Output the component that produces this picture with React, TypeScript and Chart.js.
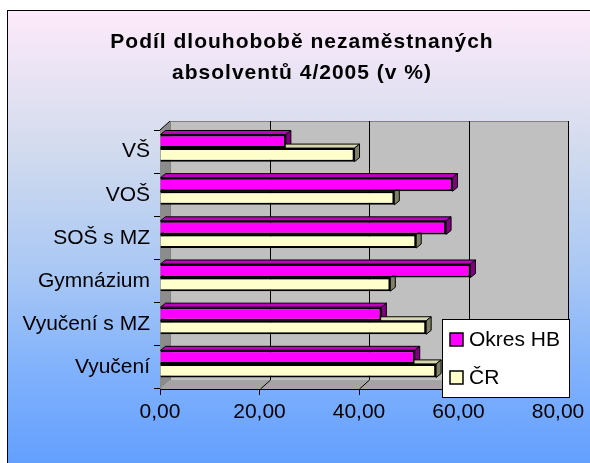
import React, { useEffect, useRef } from "react";
import { Chart, registerables } from "chart.js";

Chart.register(...registerables);

const categories = ["VŠ", "VOŠ", "SOŠ s MZ", "Gymnázium", "Vyučení s MZ", "Vyučení"];
const okresHB = [25.3, 58.8, 57.5, 62.4, 44.5, 51.2];
const cr = [39.1, 47.1, 51.5, 46.3, 53.5, 55.5];
const seriesNames = ["Okres HB", "ČR"];
const titleLines = ["Podíl dlouhobobě nezaměstnaných", "absolventů 4/2005 (v %)"];
const xTicks = [0, 20, 40, 60, 80];

const FONT = "'Liberation Sans', Arial, sans-serif";
const colors = ["#ff00ff", "#ffffcc"];
const topColors = ["#c000c0", "#d8d8b0"];
const sideColors = ["#800080", "#808066"];

const threeD = {
  id: "threeD",
  beforeDatasetsDraw(chart: any) {
    const { ctx, chartArea } = chart;
    const { left, right, top, bottom } = chartArea;
    const x = chart.scales.x;
    const DX = 10, DY = 9;
    ctx.save();
    ctx.fillStyle = "#c0c0c0";
    ctx.fillRect(left + DX, top - DY, right - left, bottom - top);
    ctx.strokeStyle = "#808080";
    ctx.lineWidth = 1;
    ctx.strokeRect(left + DX + 0.5, top - DY + 0.5, right - left, bottom - top);
    ctx.fillStyle = "#8c8c8c";
    ctx.beginPath();
    ctx.moveTo(left, top);
    ctx.lineTo(left + DX, top - DY);
    ctx.lineTo(left + DX, bottom - DY);
    ctx.lineTo(left, bottom);
    ctx.closePath();
    ctx.fill();
    ctx.strokeStyle = "#000";
    ctx.beginPath();
    ctx.moveTo(left, top);
    ctx.lineTo(left + DX, top - DY);
    ctx.stroke();
    ctx.fillStyle = "#a4a4a4";
    ctx.beginPath();
    ctx.moveTo(left, bottom);
    ctx.lineTo(left + DX, bottom - DY);
    ctx.lineTo(right + DX, bottom - DY);
    ctx.lineTo(right, bottom);
    ctx.closePath();
    ctx.fill();
    ctx.strokeStyle = "#000";
    ctx.lineWidth = 1;
    xTicks.forEach((v) => {
      if (v === 0) return;
      const px = Math.round(x.getPixelForValue(v)) + 0.5;
      ctx.beginPath();
      ctx.moveTo(px + DX, top - DY);
      ctx.lineTo(px + DX, bottom - DY);
      ctx.stroke();
      ctx.beginPath();
      ctx.moveTo(px, bottom);
      ctx.lineTo(px + DX, bottom - DY);
      ctx.stroke();
    });
    ctx.restore();

    ctx.save();
    ctx.translate(0, -3.5);
    const bdx = 5, bdy = 4;
    chart.data.datasets.forEach((ds: any, di: number) => {
      const meta = chart.getDatasetMeta(di);
      meta.data.forEach((el: any) => {
        const h = el.height;
        const t = el.y - h / 2;
        const b = el.y + h / 2;
        const x0 = el.base;
        const x1 = el.x;
        ctx.lineWidth = 1;
        ctx.strokeStyle = "#000";
        ctx.fillStyle = topColors[di];
        ctx.beginPath();
        ctx.moveTo(x0, t);
        ctx.lineTo(x0 + bdx, t - bdy);
        ctx.lineTo(x1 + bdx, t - bdy);
        ctx.lineTo(x1, t);
        ctx.closePath();
        ctx.fill();
        ctx.stroke();
        ctx.fillStyle = sideColors[di];
        ctx.beginPath();
        ctx.moveTo(x1, t);
        ctx.lineTo(x1 + bdx, t - bdy);
        ctx.lineTo(x1 + bdx, b - bdy);
        ctx.lineTo(x1, b);
        ctx.closePath();
        ctx.fill();
        ctx.stroke();
      });
    });
  },
  afterDatasetsDraw(chart: any) {
    chart.ctx.restore();
  },
  afterDraw(chart: any) {
    const { ctx } = chart;
    ctx.save();
    ctx.fillStyle = "#000";
    ctx.font = `bold 21px ${FONT}`;
    ctx.textAlign = "center";
    ctx.textBaseline = "middle";
    try { (ctx as any).letterSpacing = "1px"; } catch (e) {}
    ctx.fillText(titleLines[0], 302, 42);
    ctx.fillText(titleLines[1], 302, 73);
    try { (ctx as any).letterSpacing = "0px"; } catch (e) {}
    const lx = 442, ly = 319, lw = 127, lh = 78;
    ctx.fillStyle = "#fff";
    ctx.fillRect(lx, ly, lw, lh);
    ctx.strokeStyle = "#000";
    ctx.lineWidth = 1;
    ctx.strokeRect(lx + 0.5, ly + 0.5, lw, lh);
    const ys = [339, 377];
    ctx.textAlign = "left";
    ctx.font = `21px ${FONT}`;
    chart.data.datasets.forEach((ds: any, i: number) => {
      ctx.fillStyle = ds.backgroundColor;
      ctx.fillRect(450, ys[i] - 6, 13, 13);
      ctx.lineWidth = 1.5;
      ctx.strokeRect(450, ys[i] - 6, 13, 13);
      ctx.fillStyle = "#000";
      ctx.fillText(ds.label, 469, ys[i] + 1);
    });
    ctx.restore();
  },
};

export default function App() {
  const ref = useRef<HTMLCanvasElement | null>(null);
  useEffect(() => {
    if (!ref.current) return;
    const chart = new Chart(ref.current, {
      type: "bar",
      data: {
        labels: categories,
        datasets: [
          {
            label: seriesNames[0],
            data: okresHB,
            backgroundColor: colors[0],
            borderColor: "#000",
            borderWidth: 2,
            categoryPercentage: 0.63,
            barPercentage: 1,
          },
          {
            label: seriesNames[1],
            data: cr,
            backgroundColor: colors[1],
            borderColor: "#000",
            borderWidth: 2,
            categoryPercentage: 0.63,
            barPercentage: 1,
          },
        ],
      },
      options: {
        indexAxis: "y",
        responsive: false,
        animation: false,
        layout: { padding: { top: 130, right: 32, bottom: 0, left: 0 } },
        plugins: {
          legend: { display: false },
          title: { display: false },
          tooltip: { enabled: false },
        },
        scales: {
          x: {
            min: 0,
            max: 80,
            ticks: {
              stepSize: 20,
              color: "#000",
              font: { family: FONT, size: 21 },
              padding: 5,
              maxRotation: 0,
              callback: (v: any) => Number(v).toFixed(2).replace(".", ","),
            },
            grid: { drawOnChartArea: false, tickLength: 6, color: "#000" },
            border: { display: true, color: "#000", width: 1 },
            afterFit: (s: any) => {
              s.height = 74;
            },
          },
          y: {
            ticks: {
              color: "#000",
              font: { family: FONT, size: 21 },
              padding: 4,
            },
            grid: { drawOnChartArea: false, tickLength: 6, color: "#000", offset: true },
            border: { display: true, color: "#000", width: 1 },
            afterFit: (s: any) => {
              s.width = 160;
            },
          },
        },
      },
      plugins: [threeD],
    });
    return () => chart.destroy();
  }, []);

  return (
    <div style={{ position: "fixed", left: 0, top: 0, width: 590, height: 463, overflow: "hidden" }}>
      <div
        style={{
          position: "absolute",
          left: 7,
          top: 10,
          width: 600,
          height: 470,
          borderLeft: "1px solid #000",
          borderTop: "1px solid #000",
          background:
            "linear-gradient(to bottom, #fdeafa 0%, #d4dcee 28%, #aac8f4 55%, #7eb0fc 78%, #5e9cff 100%)",
        }}
      />
      <canvas
        ref={ref}
        width={590}
        height={463}
        style={{ position: "absolute", left: 0, top: 0, width: 590, height: 463 }}
      />
    </div>
  );
}
